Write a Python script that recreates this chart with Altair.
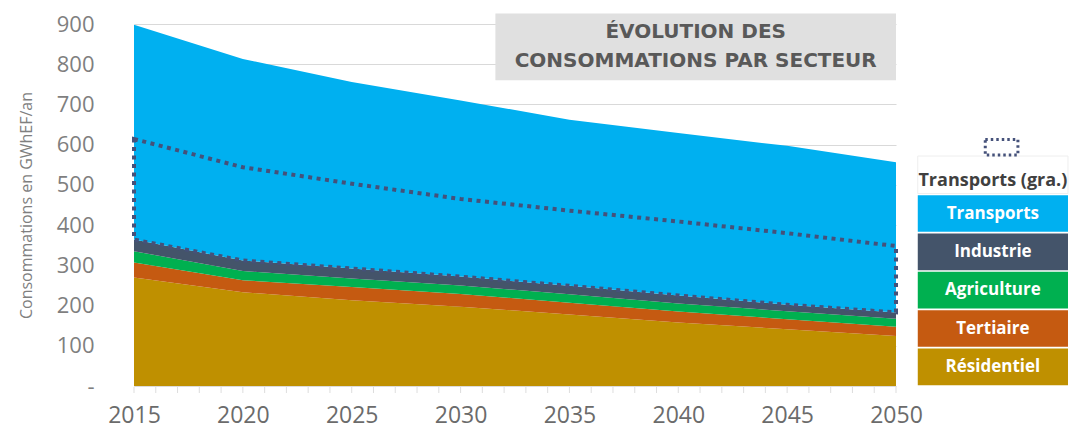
import altair as alt
import pandas as pd

years = [2015, 2020, 2025, 2030, 2035, 2040, 2045, 2050]
residentiel = [270, 233, 213, 197, 178, 158, 141, 124]
tertiaire = [37, 30, 33, 32, 29, 27, 25, 23]
agriculture = [28, 23, 21, 21, 21, 20, 20, 20]
industrie = [29, 26, 25, 22, 21, 20, 16, 16]
transports = [534, 501, 464, 438, 413, 404, 395, 373]
transports_gra = [250, 232, 211, 193, 187, 184, 178, 165]

sectors = ["Résidentiel", "Tertiaire", "Agriculture", "Industrie", "Transports"]
colors = ["#BF9000", "#C55A11", "#00B050", "#44546A", "#00B0F0"]
series = [residentiel, tertiaire, agriculture, industrie, transports]
dot_color = "#45517A"

title_lines = ["ÉVOLUTION DES", "CONSOMMATIONS PAR SECTEUR"]
y_title = "Consommations en GWhEF/an"

# long table for stacked areas
rows = []
for k, (s, vals) in enumerate(zip(sectors, series)):
    for yr, v in zip(years, vals):
        rows.append({"annee": yr, "secteur": s, "valeur": v, "ordre": k})
df = pd.DataFrame(rows)

# dotted "Transports (gra.)" band, sitting on top of Industrie
base_top = [r + t + a + i for r, t, a, i in zip(residentiel, tertiaire, agriculture, industrie)]
df_gra = pd.DataFrame({
    "annee": years,
    "bas": base_top,
    "haut": [b + g for b, g in zip(base_top, transports_gra)],
})

xscale = alt.Scale(domain=[2015, 2050], nice=False, zero=False)
yscale = alt.Scale(domain=[0, 900], nice=False)

areas = alt.Chart(df).mark_area(interpolate="linear").encode(
    x=alt.X("annee:Q", scale=xscale,
            axis=alt.Axis(values=years, format="d", grid=False, ticks=False,
                          domain=True, domainColor="#dcdcdc",
                          labelFontSize=23, labelColor="#6b6b6b",
                          labelPadding=18, labelFlush=False, title=None)),
    y=alt.Y("valeur:Q", stack="zero", scale=yscale,
            axis=alt.Axis(values=list(range(0, 901, 100)),
                          labelExpr="datum.value == 0 ? '-' : datum.label",
                          grid=True, gridColor="#d9d9d9", domain=False, ticks=False,
                          labelFontSize=22, labelColor="#7f7f7f", labelPadding=40,
                          title=y_title, titleFontSize=16, titleFontWeight="normal",
                          titleColor="#7f7f7f", titlePadding=22)),
    color=alt.Color("secteur:N", scale=alt.Scale(domain=sectors, range=colors), legend=None),
    order=alt.Order("ordre:Q"),
)

# yearly minor ticks under the plot
all_years = pd.DataFrame({"annee": list(range(years[0], years[-1] + 1))})
minor = alt.Chart(all_years).mark_tick(
    orient="vertical", size=6, thickness=1, color="#cfcfcf", yOffset=4
).encode(x=alt.X("annee:Q", scale=xscale), y=alt.datum(0, scale=yscale))

gra = alt.Chart(df_gra).mark_area(
    interpolate="linear", fillOpacity=0, stroke=dot_color, strokeWidth=4,
    strokeDash=[4, 4.5]
).encode(
    x=alt.X("annee:Q", scale=xscale),
    y=alt.Y("haut:Q", scale=yscale),
    y2="bas:Q",
)

# title box (annotation in data space)
tbox = pd.DataFrame({"x": [2031.6], "x2": [2050.0], "y": [926], "y2": [760]})
title_rect = alt.Chart(tbox).mark_rect(color="#E0E0E0").encode(
    x="x:Q", x2="x2:Q", y="y:Q", y2="y2:Q")
tdf = pd.DataFrame({"x": [2040.8, 2040.8], "y": [879, 808], "t": title_lines})
title_text = alt.Chart(tdf).mark_text(
    font="DejaVu Sans", fontWeight="bold", fontSize=20, color="#595959",
    align="center", baseline="middle"
).encode(x="x:Q", y="y:Q", text="t:N")

# custom legend to the right of the plot
leg_order = ["Transports", "Industrie", "Agriculture", "Tertiaire", "Résidentiel"]
row_h = 95.3
leg = pd.DataFrame({
    "secteur": leg_order,
    "y": [row_h * (5 - i) - 2 for i in range(5)],
    "y2": [row_h * (4 - i) + 2 for i in range(5)],
})
leg["x"] = 2051.0
leg["x2"] = 2057.9
leg["xc"] = 2054.45
leg["yc"] = (leg["y"] + leg["y2"]) / 2
leg_rect = alt.Chart(leg).mark_rect().encode(
    x="x:Q", x2="x2:Q", y="y:Q", y2="y2:Q",
    color=alt.Color("secteur:N", scale=alt.Scale(domain=sectors, range=colors), legend=None),
)
leg_text = alt.Chart(leg).mark_text(
    font="Open Sans", fontWeight="bold", fontSize=17, color="white",
    align="center", baseline="middle"
).encode(x="xc:Q", y="yc:Q", text="secteur:N")

hdr = pd.DataFrame({"x": [2051.0], "x2": [2057.9], "y": [row_h * 6], "y2": [row_h * 5 + 2],
                    "xc": [2054.45], "yc": [row_h * 5.35], "t": ["Transports (gra.)"],
                    "ix": [2054.1], "ix2": [2055.6], "iy": [613], "iy2": [574]})
hdr_rect = alt.Chart(hdr).mark_rect(color="white", stroke="#eeeeee", strokeWidth=1).encode(
    x="x:Q", x2="x2:Q", y="y:Q", y2="y2:Q")
hdr_text = alt.Chart(hdr).mark_text(
    font="Open Sans", fontWeight="bold", fontSize=18, color="#404040",
    align="center", baseline="middle"
).encode(x="xc:Q", y="yc:Q", text="t:N")
hdr_icon = alt.Chart(hdr).mark_rect(
    fillOpacity=0, stroke=dot_color, strokeWidth=3, strokeDash=[2.5, 3]
).encode(x="ix:Q", x2="ix2:Q", y="iy:Q", y2="iy2:Q")

chart = alt.layer(
    areas, minor, gra, title_rect, title_text, hdr_rect, hdr_text, hdr_icon, leg_rect, leg_text
).properties(
    width=762, height=362,
    padding={"left": 10, "top": 5, "right": 0, "bottom": 4},
).configure(font="Open Sans").configure_view(stroke=None)

chart.save("out.html", embed_options={"renderer": "svg", "actions": False})
